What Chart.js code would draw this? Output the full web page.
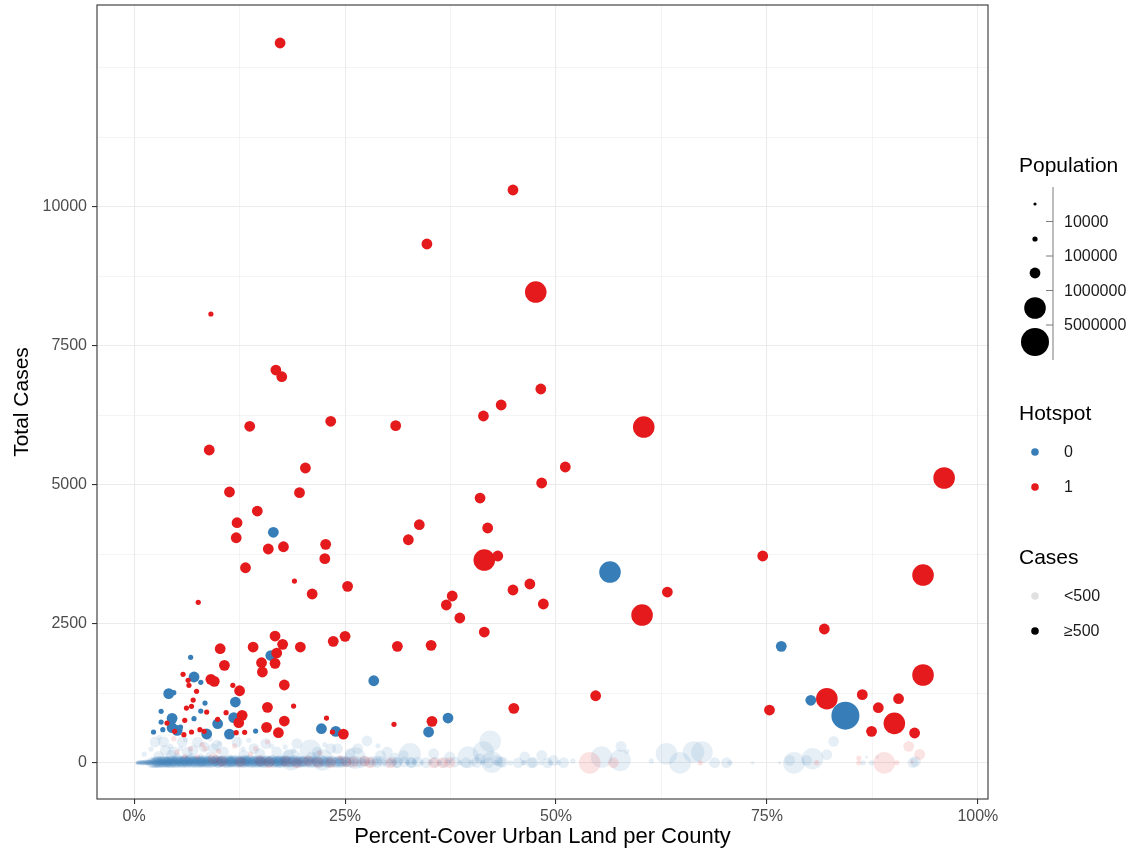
<!DOCTYPE html>
<html>
<head>
<meta charset="utf-8">
<title>Urban land vs total cases</title>
<script src="https://cdn.jsdelivr.net/npm/chart.js@4.4.1/dist/chart.umd.min.js"></script>
<style>
  html, body { margin: 0; padding: 0; background: #fff; }
</style>
</head>
<body>
<canvas id="chart" width="1143" height="853"></canvas>
<script>
/* Urban land cover vs. total cases per county, sized by population. */

// Axis ticks
const xTicks = [0, 25, 50, 75, 100];
const yTicks = [0, 2500, 5000, 7500, 10000];

// Population bins for the size legend
const popBreaks = [10000, 100000, 1000000, 5000000];
const popLabels = ['10000', '100000', '1000000', '5000000'];

// Counties flagged as hotspots: [percent urban, total cases, population]
const hotspotCounties = [
  [17.3, 12950, 310000], [44.9, 10306, 420000], [34.7, 9335, 380000], [47.6, 8471, 2600000],
  [9.1, 8076, 45000], [16.8, 7068, 290000], [17.5, 6948, 330000], [48.2, 6727, 360000],
  [43.5, 6439, 410000], [23.3, 6146, 270000], [13.7, 6056, 240000], [31.0, 6067, 300000],
  [41.4, 6241, 350000], [60.4, 6043, 2100000], [8.9, 5630, 210000], [20.3, 5306, 260000],
  [51.1, 5324, 390000], [48.3, 5036, 320000], [96.0, 5126, 2300000], [11.3, 4874, 230000],
  [19.6, 4862, 280000], [41.0, 4766, 340000], [14.6, 4532, 250000], [12.2, 4322, 220000],
  [12.1, 4052, 200000], [33.8, 4286, 310000], [32.5, 4016, 300000], [41.9, 4227, 330000],
  [15.9, 3849, 240000], [17.7, 3890, 260000], [22.7, 3933, 270000], [22.6, 3675, 250000],
  [13.2, 3512, 210000], [19.0, 3273, 60000], [21.1, 3040, 230000], [25.3, 3178, 260000],
  [7.6, 2890, 40000], [41.5, 3651, 2400000], [43.1, 3723, 310000], [46.9, 3220, 290000],
  [44.9, 3112, 280000], [48.5, 2860, 300000], [37.7, 3004, 270000], [37.0, 2842, 250000],
  [38.6, 2608, 260000], [41.5, 2356, 280000], [74.5, 3723, 350000], [63.2, 3075, 330000],
  [60.2, 2662, 2200000], [81.8, 2410, 370000], [16.7, 2284, 220000], [17.6, 2135, 240000],
  [19.7, 2086, 230000], [23.6, 2189, 250000], [25.0, 2279, 260000], [31.2, 2099, 280000],
  [35.2, 2117, 290000], [10.2, 2056, 180000], [14.1, 2086, 210000], [16.9, 1978, 230000],
  [10.7, 1757, 190000], [15.1, 1804, 200000], [15.2, 1637, 190000], [16.7, 1793, 220000],
  [5.8, 1595, 42000], [6.4, 1487, 38000], [9.1, 1505, 160000], [9.5, 1469, 170000],
  [6.5, 1397, 35000], [7.4, 1289, 41000], [11.7, 1397, 47000], [12.5, 1300, 180000],
  [17.8, 1403, 200000], [18.9, 1025, 52000], [15.8, 1002, 190000], [12.8, 858, 170000],
  [12.4, 725, 160000], [15.7, 642, 150000], [17.1, 545, 170000], [17.8, 755, 180000],
  [10.9, 905, 48000], [9.9, 786, 44000], [13.1, 552, 39000], [12.1, 545, 36000],
  [3.9, 719, 31000], [4.8, 570, 34000], [5.9, 509, 29000], [6.8, 558, 33000],
  [6.2, 989, 37000], [6.8, 1020, 42000], [7.0, 1133, 46000], [8.6, 917, 43000],
  [6.0, 768, 35000], [7.8, 599, 38000], [8.3, 570, 32000], [24.8, 520, 160000],
  [22.8, 809, 55000], [23.5, 558, 49000], [30.8, 696, 41000], [35.3, 750, 190000],
  [45.0, 984, 230000], [54.7, 1210, 260000], [75.3, 953, 280000], [82.1, 1157, 1900000],
  [86.3, 1229, 310000], [88.2, 995, 300000], [90.6, 1157, 320000], [87.4, 570, 270000],
  [90.1, 714, 2000000], [92.5, 540, 290000], [93.5, 1583, 2200000], [93.5, 3381, 2500000],
  // fewer than 500 cases
  [4.7, 438, 42000], [6.7, 258, 36000], [8.4, 258, 33000], [7.5, 108, 38000],
  [5.1, 198, 31000], [15.8, 378, 46000], [9.4, 78, 160000], [19.3, 4, 210000],
  [23.3, 6, 190000], [16.0, 8, 230000], [30.4, 3, 170000], [12.6, 20, 150000],
  [21.8, 12, 180000], [26.0, 15, 200000], [28.0, 5, 160000], [35.5, 2, 220000],
  [36.5, 4, 190000], [37.4, 6, 170000], [54.0, 3, 2100000], [56.8, 5, 180000],
  [67.1, 4, 45000], [80.9, 6, 50000], [85.9, 90, 40000], [85.9, 4, 38000],
  [88.9, 3, 2300000], [90.4, 5, 42000], [91.8, 300, 230000], [92.2, 20, 6000],
  [93.1, 156, 200000], [10.4, 30, 240000], [14.9, 45, 210000], [18.0, 28, 260000],
  [20.6, 40, 230000], [25.1, 22, 190000], [27.3, 35, 250000], [11.9, 310, 40000],
  [13.8, 160, 45000], [24.4, 96, 38000], [8.1, 330, 41000], [10.0, 210, 37000],
  [6.0, 120, 33000], [14.4, 260, 44000], [22.0, 180, 39000]
];

// Counties not flagged as hotspots: [percent urban, total cases, population]
const otherCounties = [
  [6.7, 1901, 45000], [7.1, 1547, 350000], [7.9, 1451, 40000], [4.1, 1247, 300000],
  [4.7, 1265, 50000], [16.5, 4150, 400000], [16.2, 1933, 380000], [12.0, 1097, 300000],
  [11.8, 815, 350000], [14.4, 575, 60000], [9.9, 707, 280000], [8.6, 522, 300000],
  [11.3, 520, 250000], [3.2, 930, 40000], [3.2, 737, 35000], [4.5, 804, 300000],
  [4.5, 635, 260000], [3.4, 599, 45000], [2.3, 558, 50000], [5.5, 647, 60000],
  [5.1, 588, 220000], [8.4, 1079, 50000], [7.9, 935, 45000], [7.1, 797, 40000],
  [22.2, 617, 320000], [23.9, 570, 300000], [28.4, 1480, 350000], [37.2, 809, 330000],
  [34.9, 558, 310000], [56.4, 3435, 2500000], [76.7, 2099, 300000], [80.2, 1128, 400000],
  [84.3, 851, 9000000],
  // fewer than 500 cases, above the floor
  [2.5, 378, 250000], [3.5, 380, 180000], [3.7, 228, 420000], [4.7, 198, 350000],
  [5.7, 378, 220000], [7.5, 375, 300000], [8.3, 288, 260000], [6.3, 198, 480000],
  [5.1, 78, 300000], [6.7, 80, 550000], [9.4, 258, 310000], [10.6, 198, 270000],
  [12.2, 378, 340000], [13.0, 138, 400000], [14.2, 258, 290000], [15.6, 348, 360000],
  [16.9, 198, 450000], [19.3, 348, 280000], [20.9, 228, 1500000], [21.7, 198, 320000],
  [23.3, 258, 380000], [24.1, 258, 260000], [25.6, 168, 340000], [27.6, 396, 240000],
  [29.2, 138, 300000], [30.0, 198, 420000], [4.0, 30, 200000], [6.0, 45, 350000],
  [8.0, 20, 260000], [9.9, 40, 380000], [11.5, 25, 300000], [13.2, 50, 420000],
  [15.0, 15, 280000], [17.2, 40, 500000], [18.6, 60, 1800000], [20.0, 25, 330000],
  [22.3, 55, 2200000], [24.5, 30, 410000], [26.2, 90, 1600000], [28.8, 40, 380000],
  [31.9, 138, 300000], [35.5, 167, 280000], [37.4, 108, 320000], [46.3, 108, 260000],
  [48.3, 138, 300000], [49.7, 48, 350000], [50.9, 5, 240000], [32.7, 167, 1700000],
  [42.2, 390, 2500000], [39.6, 108, 1800000], [41.4, 198, 1600000], [42.4, 18, 2200000],
  [55.4, 108, 1900000], [57.6, 48, 2100000], [57.7, 300, 280000], [58.4, 210, 60000],
  [63.1, 167, 2300000], [64.7, 2, 2600000], [61.3, 36, 50000], [52.0, 36, 45000],
  [31.1, 5, 300000], [32.9, 5, 260000], [43.0, 48, 340000], [43.4, 18, 290000],
  [41.0, 78, 310000], [47.1, 3, 250000], [46.1, 2, 60000], [49.3, 4, 55000],
  [66.3, 198, 1800000], [67.3, 198, 1600000], [68.8, 5, 300000], [70.2, 5, 280000],
  [70.6, 5, 50000], [73.3, 2, 6000], [76.5, 3, 7000], [78.2, 2, 2400000],
  [77.7, 48, 310000], [79.7, 48, 330000], [80.4, 78, 2000000], [82.1, 150, 300000],
  [82.9, 390, 320000], [86.4, 3, 55000], [86.8, 108, 6000], [87.4, 4, 48000],
  [88.1, 108, 7000], [92.3, 4, 300000], [92.6, 30, 260000],
  [3.0, 460, 40000], [4.3, 300, 52000], [6.1, 420, 47000], [9.0, 430, 58000],
  [10.1, 350, 44000], [11.0, 470, 61000], [13.6, 410, 39000], [17.9, 290, 56000],
  [2.0, 250, 35000], [1.2, 160, 30000], [8.8, 150, 64000], [18.3, 140, 230000],
  [2.9, 120, 210000], [4.4, 140, 190000], [5.5, 260, 43000], [7.0, 230, 260000],
  [7.9, 130, 48000], [9.8, 320, 230000], [11.4, 110, 52000], [12.9, 250, 36000],
  [14.9, 170, 280000], [16.3, 300, 41000], [18.9, 220, 54000], [21.0, 110, 300000],
  [22.6, 330, 46000], [26.5, 260, 210000], [28.9, 310, 59000], [30.9, 90, 270000],
  // the dense floor of low-count counties
  [0.3, 4, 2000], [0.35, 2, 4500], [0.4, 1, 3500], [0.45, 6, 8000], [0.5, 7, 2800],
  [0.55, 3, 11000], [0.6, 3, 5200], [0.65, 9, 14000], [0.7, 10, 4100], [0.75, 5, 9000],
  [0.8, 2, 6600], [0.85, 12, 17000], [0.9, 5, 3300], [0.95, 8, 12000], [1.0, 12, 7800],
  [1.05, 3, 21000], [1.1, 6, 4900], [1.15, 14, 16000], [1.2, 1, 9200], [1.25, 7, 24000],
  [1.3, 9, 5800], [1.35, 16, 13000], [1.4, 15, 8100], [1.45, 4, 28000], [1.5, 4, 6400],
  [1.55, 19, 19000], [1.6, 11, 12500], [1.65, 6, 33000], [1.7, 2, 7300], [1.75, 13, 22000],
  [1.8, 18, 9900], [1.85, 8, 38000], [1.9, 7, 15800], [1.95, 21, 26000], [2.0, 13, 8800],
  [2.05, 5, 150000], [2.1, 3, 21000], [2.15, 17, 42000], [2.2, 22, 11400], [2.25, 10, 180000],
  [2.3, 9, 6900], [2.35, 25, 47000], [2.4, 16, 26000], [2.45, 4, 210000],
  [2.5, 5, 13700], [2.6, 27, 18300], [2.7, 11, 9500], [2.8, 2, 31000], [2.9, 20, 15200],
  [3.0, 8, 22600], [3.1, 33, 12100], [3.2, 14, 37000], [3.3, 4, 17500], [3.4, 25, 28400],
  [3.5, 10, 43000], [3.6, 18, 14600], [3.7, 38, 24700], [3.8, 6, 52000], [3.9, 21, 19300],
  [4.0, 12, 34800], [4.1, 44, 27100], [4.2, 3, 61000], [4.3, 29, 22400], [4.4, 15, 46000],
  [4.5, 8, 31500], [4.6, 36, 71000], [4.7, 19, 26800], [4.8, 51, 39200], [4.9, 9, 55000],
  [5.0, 24, 82000], [5.1, 14, 36300], [5.2, 41, 48700], [5.3, 5, 91000], [5.4, 30, 42100],
  [5.5, 17, 64000], [5.6, 58, 33900], [5.7, 11, 76000], [5.8, 35, 52600], [5.9, 22, 87000],
  [6.0, 7, 45800], [6.1, 47, 68000], [6.2, 26, 39400], [6.3, 13, 95000], [6.4, 63, 57100],
  [6.5, 31, 81000], [6.6, 4, 47300], [6.7, 40, 72000], [6.8, 18, 61400], [6.9, 55, 93000],
  [7.0, 27, 53800], [7.1, 9, 84000], [7.2, 46, 66200], [7.3, 21, 98000], [7.4, 70, 58700],
  [7.5, 33, 77000], [7.6, 12, 49500], [7.7, 52, 89000], [7.8, 24, 63100], [7.9, 39, 96000],
  [8.0, 6, 71500], [8.2, 60, 54300], [8.3, 28, 86000], [8.4, 16, 67800], [8.5, 48, 92000],
  [8.7, 34, 58900], [8.8, 10, 79000], [8.9, 66, 99000], [9.0, 23, 62500], [9.2, 43, 85000],
  [9.3, 14, 74200], [9.5, 57, 91000], [9.6, 30, 56800], [9.7, 8, 83000], [9.9, 49, 69400],
  [10.0, 19, 97000], [10.2, 37, 64700], [10.3, 72, 88000], [10.5, 25, 59200], [10.6, 12, 81000],
  [10.8, 53, 73600], [10.9, 32, 95000], [11.1, 17, 66900], [11.2, 45, 87000], [11.4, 6, 60100],
  [11.5, 61, 92000], [11.7, 28, 77400], [11.9, 40, 98000], [12.0, 15, 68300], [12.2, 55, 84000],
  [12.3, 33, 57900], [12.5, 9, 91000], [12.7, 47, 75100], [12.8, 22, 86000], [13.0, 68, 63400],
  [13.1, 36, 94000], [13.3, 13, 70800], [13.5, 51, 82000], [13.6, 26, 59600], [13.8, 42, 97000],
  [14.0, 7, 76300], [14.1, 59, 88000], [14.3, 31, 64900], [14.5, 18, 93000], [14.6, 46, 72400],
  [14.8, 24, 85000], [15.0, 64, 61700], [15.2, 11, 96000], [15.3, 38, 79500], [15.5, 20, 87000],
  [15.7, 53, 66200], [15.9, 29, 99000], [16.0, 14, 73800], [16.2, 44, 84000], [16.4, 8, 62600],
  [16.6, 58, 92000], [16.7, 34, 77100], [16.9, 21, 89000], [17.1, 49, 65300], [17.3, 27, 95000],
  [17.5, 12, 71900], [17.7, 62, 86000], [17.9, 36, 68400], [18.1, 17, 91000], [18.3, 43, 74600],
  [18.5, 25, 97000], [18.8, 9, 63900], [19.0, 54, 82000], [19.2, 30, 76800], [19.5, 15, 94000],
  [19.7, 41, 67200], [20.0, 22, 88000], [20.3, 57, 72300], [20.5, 11, 96000], [20.8, 35, 64100],
  [21.1, 26, 85000], [21.4, 48, 78700], [21.7, 16, 93000], [22.0, 32, 69500], [22.3, 7, 87000],
  [22.6, 45, 75400], [22.9, 20, 98000], [23.2, 38, 66600], [23.6, 13, 83000], [23.9, 52, 71200],
  [24.2, 24, 92000], [24.6, 34, 63800], [25.0, 10, 86000], [25.4, 42, 77900], [25.8, 19, 95000],
  [26.2, 31, 68100], [26.7, 6, 81000], [27.1, 39, 73300], [27.6, 23, 89000], [28.1, 14, 65700],
  [28.6, 33, 94000], [29.1, 18, 76200], [29.7, 8, 87000], [30.3, 27, 69900], [30.9, 12, 91000],
  [31.6, 21, 74400], [32.4, 5, 83000], [33.2, 16, 67500], [34.1, 9, 78000], [35.1, 20, 62300],
  [36.2, 4, 85000], [37.3, 13, 71100], [38.6, 7, 66000], [39.9, 17, 79000], [41.3, 3, 58400],
  [42.9, 11, 72000], [44.6, 2, 64800], [46.3, 8, 81000], [48.2, 4, 55300], [50.3, 6, 69000],
  // larger low-count counties sitting on the floor
  [2.55, 12, 150000], [2.75, 30, 220000], [2.95, 6, 310000], [3.15, 20, 180000], [3.35, 38, 260000],
  [3.55, 9, 420000], [3.75, 26, 190000], [3.95, 14, 350000], [4.15, 41, 240000], [4.35, 5, 510000],
  [4.55, 22, 170000], [4.75, 33, 380000], [4.95, 11, 280000], [5.15, 46, 200000], [5.35, 18, 460000],
  [5.55, 29, 230000], [5.75, 7, 330000], [5.95, 39, 550000], [6.15, 15, 210000], [6.35, 27, 400000],
  [6.55, 50, 260000], [6.75, 10, 480000], [6.95, 34, 190000], [7.15, 21, 360000], [7.35, 44, 290000],
  [7.55, 8, 620000], [7.75, 31, 240000], [7.95, 17, 410000], [8.15, 48, 300000], [8.35, 12, 520000],
  [8.55, 37, 220000], [8.75, 25, 390000], [8.95, 6, 270000], [9.15, 42, 580000], [9.35, 19, 250000],
  [9.55, 32, 430000], [9.75, 54, 310000], [9.95, 11, 200000], [10.15, 28, 470000], [10.35, 40, 280000],
  [10.55, 16, 650000], [10.75, 35, 230000], [10.95, 4, 400000], [11.15, 47, 330000], [11.35, 23, 540000],
  [11.55, 13, 260000], [11.75, 38, 440000], [11.95, 26, 300000], [12.15, 52, 590000], [12.35, 9, 240000],
  [12.55, 30, 370000], [12.75, 19, 480000], [12.95, 43, 280000], [13.15, 14, 620000], [13.35, 33, 250000],
  [13.55, 24, 430000], [13.75, 56, 320000], [13.95, 8, 510000], [14.15, 29, 270000], [14.35, 40, 450000],
  [14.55, 17, 350000], [14.75, 35, 680000], [14.95, 22, 230000], [15.15, 50, 400000], [15.35, 10, 300000],
  [15.55, 31, 560000], [15.75, 44, 260000], [15.95, 18, 470000], [16.15, 27, 340000], [16.35, 53, 610000],
  [16.55, 12, 250000], [16.75, 36, 420000], [16.95, 25, 300000], [17.15, 8, 530000], [17.35, 41, 280000],
  [17.55, 20, 460000], [17.75, 33, 350000], [17.95, 49, 700000], [18.2, 14, 260000], [18.4, 30, 410000],
  [18.7, 22, 330000], [18.9, 45, 560000], [19.1, 9, 280000], [19.4, 36, 470000], [19.6, 26, 250000],
  [19.9, 15, 600000], [20.2, 41, 320000], [20.6, 21, 450000], [20.9, 6, 290000], [21.2, 38, 520000],
  [21.6, 28, 270000], [21.9, 12, 430000], [22.2, 47, 350000], [22.5, 24, 620000], [22.8, 34, 260000],
  [23.1, 10, 490000], [23.4, 43, 310000], [23.8, 19, 550000], [24.1, 29, 280000], [24.4, 8, 420000],
  [24.8, 37, 330000], [25.2, 22, 600000], [25.6, 14, 270000], [26.0, 40, 460000], [26.4, 25, 310000],
  [26.9, 11, 520000], [27.3, 33, 290000], [27.8, 18, 440000], [28.3, 27, 350000], [28.8, 7, 580000],
  [29.4, 31, 300000], [30.0, 16, 470000], [30.6, 24, 330000], [31.2, 9, 520000], [32.0, 19, 380000],
  [32.8, 12, 290000], [33.6, 22, 450000], [34.6, 6, 330000], [35.7, 15, 500000], [36.8, 9, 280000],
  [38.0, 18, 420000], [39.3, 5, 360000], [40.6, 12, 300000], [42.0, 8, 470000], [43.7, 14, 260000],
  [45.5, 4, 390000], [47.3, 10, 310000], [49.0, 3, 420000],
  [2.62, 18, 160000], [2.82, 9, 240000], [3.02, 27, 200000], [3.22, 4, 330000], [3.42, 16, 170000],
  [3.62, 31, 280000], [3.82, 12, 210000], [4.02, 22, 390000], [4.22, 7, 180000], [4.42, 35, 250000],
  [4.62, 14, 430000], [4.82, 26, 190000], [5.02, 5, 300000], [5.22, 19, 220000], [5.42, 40, 360000],
  [5.62, 11, 170000], [5.82, 24, 410000], [6.02, 33, 230000], [6.22, 8, 290000], [6.42, 21, 500000],
  [6.62, 38, 200000], [6.82, 15, 340000], [7.02, 28, 260000], [7.22, 6, 450000], [7.42, 23, 180000],
  [7.62, 42, 320000], [7.82, 13, 240000], [8.02, 30, 390000], [8.22, 18, 210000], [8.42, 36, 470000],
  [8.62, 9, 280000], [8.82, 27, 190000], [9.02, 45, 350000], [9.22, 12, 260000], [9.42, 25, 420000],
  [9.62, 39, 230000], [9.82, 17, 310000], [10.02, 7, 480000], [10.22, 31, 200000], [10.42, 22, 370000],
  [10.62, 44, 250000], [10.82, 14, 430000], [11.02, 29, 290000], [11.22, 10, 180000], [11.42, 36, 520000],
  [11.62, 20, 240000], [11.82, 47, 330000], [12.02, 11, 270000], [12.22, 26, 410000], [12.42, 38, 210000],
  [12.62, 15, 460000], [12.82, 32, 250000], [13.02, 6, 340000], [13.22, 41, 290000], [13.42, 19, 550000],
  [13.62, 28, 200000], [13.82, 12, 380000], [14.02, 35, 260000], [14.22, 23, 440000], [14.42, 9, 230000],
  [14.62, 43, 320000], [14.82, 17, 270000], [15.02, 30, 490000], [15.22, 25, 210000], [15.42, 8, 360000],
  [15.62, 39, 280000], [15.82, 14, 420000], [16.02, 33, 240000], [16.22, 21, 510000], [16.42, 46, 300000],
  [16.62, 10, 250000], [16.82, 29, 390000], [17.02, 18, 220000], [17.22, 37, 470000], [17.42, 5, 280000],
  [17.62, 26, 340000], [17.82, 42, 210000], [18.05, 16, 430000], [18.3, 33, 260000], [18.55, 11, 370000],
  [18.8, 28, 500000], [19.05, 40, 230000], [19.3, 19, 320000], [19.55, 7, 410000], [19.8, 31, 270000],
  [20.1, 24, 460000], [20.4, 13, 240000], [20.7, 36, 350000], [21.0, 21, 290000], [21.35, 9, 420000],
  [21.7, 30, 250000], [22.05, 17, 380000], [22.4, 39, 300000], [22.75, 12, 450000], [23.1, 27, 260000],
  [23.5, 20, 340000], [23.9, 6, 400000], [24.3, 32, 280000], [24.7, 15, 360000], [25.1, 25, 230000]
];

const RED = '#E41A1C';
const BLUE = '#377EB8';
const LOW_ALPHA = 0.12;
const CASE_CUTOFF = 500;
const FONT = "'Liberation Sans', Arial, sans-serif";
const SIZE_BINS = [1.6, 2.6, 5.4, 10.8, 14];

function radiusFor(pop) {
  let i = 0;
  while (i < popBreaks.length && pop >= popBreaks[i]) i++;
  return SIZE_BINS[i];
}

function fade(hex, a) {
  const n = parseInt(hex.slice(1), 16);
  return `rgba(${n >> 16},${(n >> 8) & 255},${n & 255},${a})`;
}

const toPoints = rows => rows.map(([x, y, pop]) => ({ x, y, pop }));
const high = rows => rows.filter(r => r[1] >= CASE_CUTOFF);
const low = rows => rows.filter(r => r[1] < CASE_CUTOFF);

function pointSet(rows, colour) {
  return {
    data: toPoints(rows),
    pointRadius: ctx => ctx.raw ? radiusFor(ctx.raw.pop) : 3,
    pointHoverRadius: ctx => ctx.raw ? radiusFor(ctx.raw.pop) : 3,
    pointBackgroundColor: ctx => (ctx.raw && ctx.raw.y < CASE_CUTOFF) ? fade(colour, LOW_ALPHA) : colour,
    pointBorderWidth: 0,
    pointBorderColor: 'rgba(0,0,0,0)',
  };
}

const majorX = v => xTicks.includes(v);
const majorY = v => yTicks.includes(v);

// draws the full panel border on top of the points
const panelBorder = {
  id: 'panelBorder',
  afterDatasetsDraw(chart) {
    const { ctx, chartArea: a } = chart;
    ctx.save();
    ctx.strokeStyle = '#333333';
    ctx.lineWidth = 1.1;
    ctx.strokeRect(a.left, a.top, a.right - a.left, a.bottom - a.top);
    ctx.restore();
  },
};

// Population (binned), Hotspot and Cases guides on the right
const sideLegends = {
  id: 'sideLegends',
  afterDraw(chart) {
    const { ctx } = chart;
    const keyX = 1035, textX = 1064;
    const title = (text, y) => {
      ctx.font = `21px ${FONT}`;
      ctx.fillStyle = '#000';
      ctx.fillText(text, 1019, y);
    };
    const label = (text, y) => {
      ctx.font = `16px ${FONT}`;
      ctx.fillStyle = '#1a1a1a';
      ctx.fillText(text, textX, y);
    };
    const dot = (y, r, colour) => {
      ctx.beginPath();
      ctx.arc(keyX, y, r, 0, Math.PI * 2);
      ctx.fillStyle = colour;
      ctx.fill();
    };
    ctx.save();
    ctx.textAlign = 'left';
    ctx.textBaseline = 'middle';

    title('Population', 166);
    const keyY = [204, 239, 273, 308, 342];
    SIZE_BINS.forEach((r, i) => dot(keyY[i], r, '#000'));
    ctx.strokeStyle = '#7a7a7a';
    ctx.lineWidth = 1;
    ctx.beginPath();
    ctx.moveTo(1053, 187);
    ctx.lineTo(1053, 360);
    popLabels.forEach((t, i) => {
      const y = (keyY[i] + keyY[i + 1]) / 2;
      ctx.moveTo(1046, y);
      ctx.lineTo(1053, y);
    });
    ctx.stroke();
    popLabels.forEach((t, i) => label(t, (keyY[i] + keyY[i + 1]) / 2 + 1));

    title('Hotspot', 414);
    dot(452, 3.8, BLUE); label('0', 453);
    dot(487, 3.8, RED); label('1', 488);

    title('Cases', 558);
    dot(596, 3.8, fade('#000000', LOW_ALPHA)); label('<500', 597);
    dot(631, 3.8, '#000'); label('\u2265500', 632);
    ctx.restore();
  },
};

Chart.defaults.font.family = FONT;

new Chart(document.getElementById('chart'), {
  type: 'scatter',
  data: {
    datasets: [
      pointSet(high(hotspotCounties), RED),
      pointSet(high(otherCounties), BLUE),
      pointSet(low(hotspotCounties), RED),
      pointSet(low(otherCounties), BLUE),
    ],
  },
  options: {
    responsive: false,
    animation: false,
    devicePixelRatio: 1,
    layout: { autoPadding: false, padding: { top: 5, right: 155, left: 0, bottom: 0 } },
    plugins: { legend: { display: false }, tooltip: { enabled: false } },
    scales: {
      x: {
        type: 'linear',
        min: -4.4,
        max: 101.2,
        afterBuildTicks: s => { s.ticks = [0, 12.5, 25, 37.5, 50, 62.5, 75, 87.5, 100].map(value => ({ value })); },
        afterFit: s => { s.height = 54; s.paddingLeft = 0; s.paddingRight = 0; },
        border: { display: false },
        grid: {
          color: '#ebebeb',
          lineWidth: c => majorX(c.tick.value) ? 1.1 : 0.55,
          tickLength: 5,
          tickWidth: 1.1,
          tickColor: c => majorX(c.tick.value) ? '#333333' : 'rgba(0,0,0,0)',
        },
        ticks: {
          autoSkip: false,
          maxRotation: 0,
          padding: 3,
          color: '#4d4d4d',
          font: { size: 16 },
          callback: v => majorX(v) ? v + '%' : '',
        },
        title: {
          display: true,
          text: 'Percent-Cover Urban Land per County',
          color: '#000',
          font: { size: 22 },
          padding: { top: 0, bottom: 3 },
        },
      },
      y: {
        type: 'linear',
        min: -647,
        max: 13633,
        afterBuildTicks: s => {
          s.ticks = [0, 1250, 2500, 3750, 5000, 6250, 7500, 8750, 10000, 11250, 12500].map(value => ({ value }));
        },
        afterFit: s => { s.width = 97; s.paddingTop = 0; s.paddingBottom = 0; },
        border: { display: false },
        grid: {
          color: '#ebebeb',
          lineWidth: c => majorY(c.tick.value) ? 1.1 : 0.55,
          tickLength: 5,
          tickWidth: 1.1,
          tickColor: c => majorY(c.tick.value) ? '#333333' : 'rgba(0,0,0,0)',
        },
        ticks: {
          autoSkip: false,
          padding: 5,
          color: '#4d4d4d',
          font: { size: 16 },
          callback: v => majorY(v) ? String(v) : '',
        },
        title: {
          display: true,
          text: 'Total Cases',
          color: '#000',
          font: { size: 21 },
          padding: { top: 10, bottom: 0 },
        },
      },
    },
  },
  plugins: [panelBorder, sideLegends],
});
</script>
</body>
</html>
